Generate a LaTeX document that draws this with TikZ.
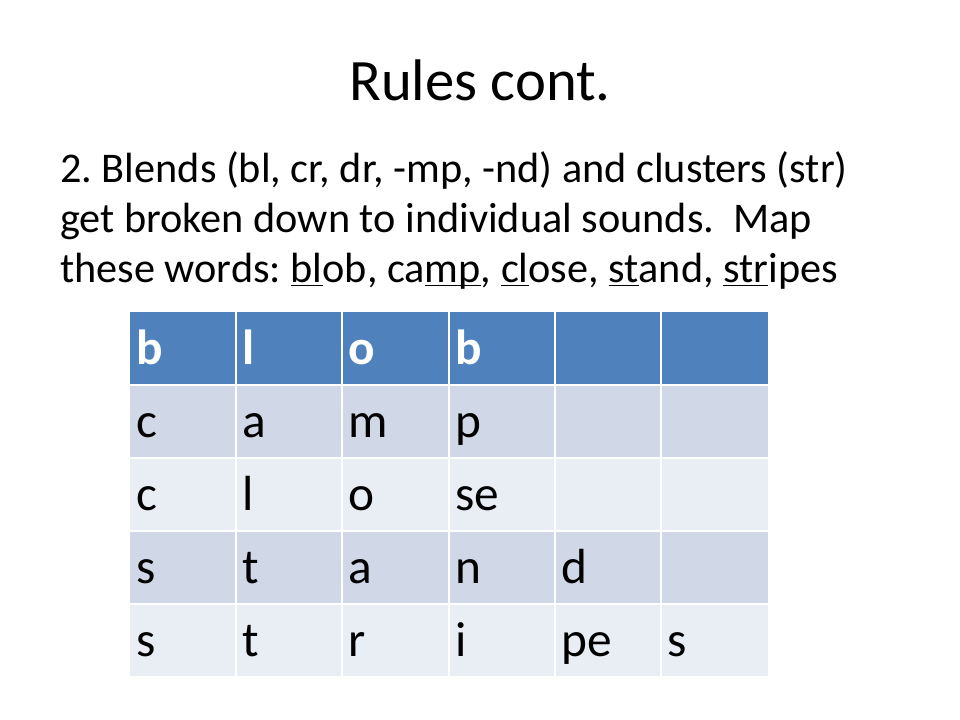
\documentclass[tikz,border=0pt]{standalone}
\usepackage{fontspec}
\setmainfont{Carlito}
\frenchspacing
\definecolor{hdr}{HTML}{4F81BD}
\definecolor{rowa}{HTML}{D0D8E8}
\definecolor{rowb}{HTML}{E9EDF4}
\newcommand{\myul}[1]{\underline{\smash{#1}}}
\tikzset{cell/.style={anchor=base west,font=\fontsize{37}{44}\selectfont,inner sep=0pt},
 hcell/.style={cell,text=white,font=\fontsize{37}{44}\selectfont\bfseries},
 body/.style={anchor=base west,font=\fontsize{31.7}{38}\selectfont,inner sep=0pt}}
\begin{document}
\begin{tikzpicture}[x=0.75pt,y=-0.75pt]
\useasboundingbox[fill=white] (0,0) rectangle (960,720);
\node[font=\fontsize{44}{53}\selectfont] (title) at (480,80) {Rules cont.};
\node[body] (l1) at (60,183) {2. Blends (bl, cr, dr, -mp, -nd) and clusters (str)};
\node[body] (l2) at (60,233) {get broken down to individual sounds.\ \ Map};
\node[body] (l3) at (60,283) {these words: \myul{bl}ob, ca\myul{mp}, \myul{cl}ose, \myul{st}and, \myul{str}ipes};
\fill[hdr] (130,312) rectangle (768,384);
\foreach \r/\c in {1/rowa,2/rowb,3/rowa,4/rowb}
  \fill[\c] (130,{384+73*(\r-1)}) rectangle (768,{384+73*\r});
\draw[white,line width=2.2pt] (130,385) -- (768,385);
\foreach \y in {458,531,604} \draw[white,line width=0.8pt] (130,\y) -- (768,\y);
\foreach \x in {236,342,449,555,661} \draw[white,line width=0.8pt] (\x,312) -- (\x,678);
\foreach \t [count=\i from 0] in {b,l,o,b}
  \node[hcell] (h\i) at ({136+106.3*\i},364) {\t};
\foreach \t [count=\i from 0] in {c,a,m,p}
  \node[cell] (a\i) at ({136+106.3*\i},437) {\t};
\foreach \t [count=\i from 0] in {c,l,o,se}
  \node[cell] (b\i) at ({136+106.3*\i},510) {\t};
\foreach \t [count=\i from 0] in {s,t,a,n,d}
  \node[cell] (c\i) at ({136+106.3*\i},583) {\t};
\foreach \t [count=\i from 0] in {s,t,r,i,pe,s}
  \node[cell] (d\i) at ({136+106.3*\i},656) {\t};
\end{tikzpicture}
\end{document}
